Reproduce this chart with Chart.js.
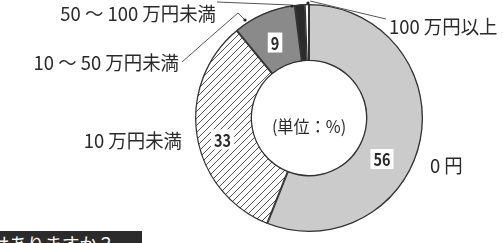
<!DOCTYPE html>
<html>
<head>
<meta charset="utf-8">
<script src="https://cdn.jsdelivr.net/npm/chart.js@4.4.0/dist/chart.umd.min.js"></script>
<style>
    html, body { margin: 0; padding: 0; background: #fff; overflow: hidden; }
    #wrap { position: relative; width: 503px; height: 243px; }
    #question {
        position: absolute; left: 0; top: 231px; width: 142px; height: 14px;
        background: #2b2b2b; color: #fff; overflow: hidden;
        font: 19px "Noto Sans CJK JP", sans-serif; line-height: 24px; white-space: nowrap;
    }
    #question span { position: relative; left: -8px; top: 1px; display: inline-block; transform: scaleX(0.92); transform-origin: left; }
</style>
</head>
<body>
<div id="wrap">
    <canvas id="donut" width="503" height="243"></canvas>
    <div id="question"><span>はありますか？</span></div>
</div>
<script>
// categories (clockwise from 12 o'clock)
const categories = ['0 円', '10 万円未満', '10 ～ 50 万円未満', '50 ～ 100 万円未満', '100 万円以上'];
const shares = [56, 33, 9, 1.4, 0.6];
const valueLabels = ['56', '33', '9', '', ''];
const unitLabel = '(単位：%)';

const JP = '"Noto Sans CJK JP", "Noto Sans CJK SC", sans-serif';

function makeHatch() {
    const c = document.createElement('canvas');
    c.width = 7; c.height = 7;
    const g = c.getContext('2d');
    g.fillStyle = '#fff';
    g.fillRect(0, 0, 7, 7);
    g.strokeStyle = '#555';
    g.lineWidth = 1;
    g.beginPath();
    g.moveTo(-1, 8); g.lineTo(8, -1);
    g.moveTo(-1, 1); g.lineTo(1, -1);
    g.moveTo(6, 8); g.lineTo(8, 6);
    g.stroke();
    return g.createPattern(c, 'repeat');
}

// condensed text, like the narrow typeface of the print
function narrowText(ctx, txt, x, y, align, sx) {
    const w = ctx.measureText(txt).width * sx;
    let left = x;
    if (align === 'right') left = x - w;
    if (align === 'center') left = x - w / 2;
    ctx.save();
    ctx.translate(left, y);
    ctx.scale(sx, 1);
    ctx.textAlign = 'left';
    ctx.fillText(txt, 0, 0);
    ctx.restore();
}

const ctxEl = document.getElementById('donut');
const hatch = makeHatch();

// labels, leader lines and value boxes
const labelPlugin = {
    id: 'labels',
    afterDraw(chart) {
        const ctx = chart.ctx;
        const arcs = chart.getDatasetMeta(0).data;
        const cx = arcs[0].x, cy = arcs[0].y;
        ctx.save();
        ctx.fillStyle = '#2a2a2a';
        ctx.textBaseline = 'middle';

        // category text
        ctx.font = '19px ' + JP;
        narrowText(ctx, categories[0], cx + 121, cy + 48, 'left', 0.97);
        narrowText(ctx, categories[1], cx - 127, cy + 23, 'right', 0.97);
        narrowText(ctx, categories[2], cx - 130, cy - 55, 'right', 0.97);
        narrowText(ctx, categories[3], cx - 93, cy - 104, 'right', 0.97);
        narrowText(ctx, categories[4], cx + 80, cy - 91, 'left', 0.97);

        // centre note
        ctx.font = '17px ' + JP;
        narrowText(ctx, unitLabel, cx, cy + 9, 'center', 0.95);

        // leader lines
        ctx.strokeStyle = '#555';
        ctx.lineWidth = 1;
        ctx.beginPath();
        ctx.moveTo(cx - 92, cy - 116);
        ctx.lineTo(cx - 18, cy - 113);
        ctx.moveTo(cx - 127, cy - 56);
        ctx.quadraticCurveTo(cx - 100, cy - 80, cx - 71, cy - 105);
        ctx.lineTo(cx - 64, cy - 98);
        ctx.moveTo(cx + 77, cy - 99);
        ctx.lineTo(cx + 1, cy - 117);
        ctx.stroke();
        ctx.fillStyle = '#222';
        [[cx - 17, cy - 112], [cx - 64, cy - 98], [cx - 1, cy - 115]].forEach(p => {
            ctx.beginPath();
            ctx.arc(p[0], p[1], 1.6, 0, Math.PI * 2);
            ctx.fill();
        });

        // value boxes
        const offsets = [[-11, 25], [-2, 8], [0, 3]];
        ctx.font = 'bold 17px ' + JP;
        valueLabels.forEach((txt, i) => {
            if (!txt) return;
            const p = arcs[i].tooltipPosition();
            const x = p.x + offsets[i][0], y = p.y + offsets[i][1];
            const w = ctx.measureText(txt).width * 0.85 + 6;
            ctx.fillStyle = '#fff';
            ctx.fillRect(x - w / 2, y - 10, w, 20);
            ctx.fillStyle = '#2a2a2a';
            narrowText(ctx, txt, x, y + 1, 'center', 0.85);
        });
        ctx.restore();
    }
};

new Chart(ctxEl, {
    type: 'doughnut',
    data: {
        labels: categories,
        datasets: [{
            data: shares,
            backgroundColor: ['#cbcbcb', hatch, '#8a8a8a', '#2b2b2b', '#ffffff'],
            borderColor: '#333',
            borderWidth: 1,
            borderAlign: 'inner'
        }]
    },
    options: {
        responsive: false,
        animation: false,
        cutout: '50%',
        layout: { padding: { left: 195, right: 80, top: 4, bottom: 11 } },
        plugins: {
            legend: { display: false },
            tooltip: { enabled: false }
        }
    },
    plugins: [labelPlugin]
});
</script>
</body>
</html>
